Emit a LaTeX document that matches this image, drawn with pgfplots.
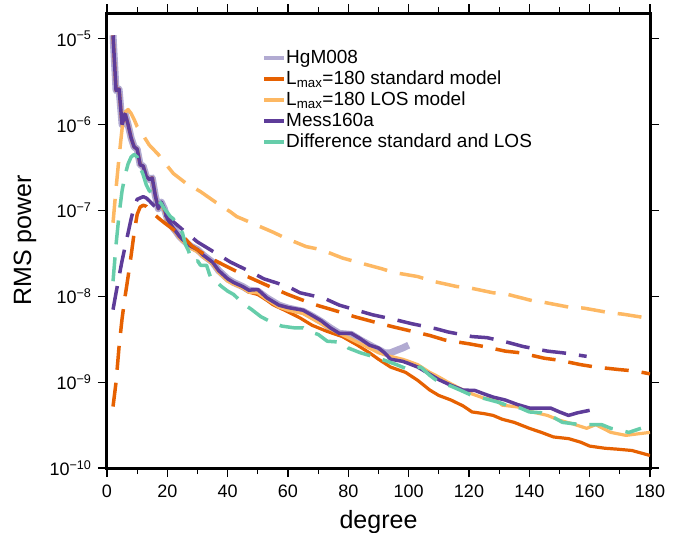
\documentclass[border=0pt]{standalone}
\usepackage{fontspec}
\setmainfont{Liberation Sans}
\usepackage{pgfplots}
\pgfplotsset{compat=1.18}
\definecolor{hgm}{HTML}{B2ABD2}
\definecolor{stdm}{HTML}{E66101}
\definecolor{losm}{HTML}{FDB863}
\definecolor{mess}{HTML}{5E3C99}
\definecolor{diffc}{HTML}{66CDAA}

\begin{document}
\begin{tikzpicture}
\begin{axis}[
  name=ax, scale only axis, width=543bp, height=455bp,
  ymode=log, xmin=0, xmax=180, ymin=1e-10, ymax=2e-5,
  xtick={0,20,...,180}, minor x tick num=1,
  ytick={1e-10,1e-9,1e-8,1e-7,1e-6,1e-5},
  yticklabels={10\textsuperscript{−10},10\textsuperscript{−9},10\textsuperscript{−8},
    10\textsuperscript{−7},10\textsuperscript{−6},10\textsuperscript{−5}},
  yminorticks=false,
  /pgf/number format/assume math mode=true,
  tick align=outside, major tick length=9bp, minor tick length=6bp,
  tick style={black, line width=1.3bp},
  axis line style={line width=3bp, line cap=rect},
  ticklabel style={font=\fontsize{18bp}{20bp}\selectfont},
  xticklabel style={yshift=-4bp},
  yticklabel style={xshift=-3bp},
  label style={font=\fontsize{25bp}{28bp}\selectfont},
  xlabel={degree}, ylabel={RMS power},
  xlabel style={at={(axis description cs:0.5,0)}, anchor=base, yshift=-60bp},
  ylabel style={at={(axis description cs:0,0.5)}, anchor=center, yshift=82bp},
  legend style={draw=none, fill=none, at={(0.28,0.925)}, anchor=north west,
    font=\fontsize{19bp}{21bp}\selectfont,
    nodes={inner sep=0pt, text height=14bp, text depth=4bp},
    row sep=3bp, /tikz/column 1/.style={column sep=0bp}},
  legend cell align=left,
  legend image code/.code={\draw[#1, line width=4bp, solid] (0bp,0bp) -- (20bp,0bp);},
  every axis plot/.append style={line join=round},
  clip=true,
]
% HgM008
\addplot[hgm, line width=7bp] coordinates {
 (2,1.1e-5)(3,2.5e-6)(4,2.6e-6)(5,1.0e-6)(6,1.35e-6)(7,1.0e-6)(8,7e-7)(9,5.5e-7)
 (10,5.2e-7)(11,3.4e-7)(12,3.3e-7)(13,2.5e-7)(14,2.3e-7)(15,2.4e-7)(16,1.5e-7)
 (17,1.05e-7)(18,1.25e-7)(19,1.05e-7)(20,8e-8)(21,7e-8)(22,6.2e-8)(23,5.6e-8)
 (24,5.0e-8)(25,4.6e-8)(26,4.3e-8)(27,4.0e-8)(28,3.8e-8)(30,3.5e-8)(32,3.0e-8)
 (35,2.5e-8)(37,2.0e-8)(40,1.6e-8)(42,1.45e-8)(45,1.3e-8)(47,1.18e-8)(50,1.15e-8)
 (53,9.6e-9)(57,7.9e-9)(60,7.3e-9)(65,6.7e-9)(68,5.9e-9)(71,5.1e-9)(74,4.3e-9)
 (77,3.7e-9)(81,3.6e-9)(84,3.1e-9)(88,2.6e-9)(90,2.4e-9)(92,2.2e-9)(94,2.2e-9)
 (96,2.35e-9)(98,2.5e-9)(100,2.7e-9)};
\addlegendentry{HgM008}
% Lmax=180 standard model
\addplot[stdm, line width=3.2bp] coordinates {
 (2,1.1e-5)(3,2.5e-6)(4,2.6e-6)(5,1.0e-6)(6,1.35e-6)(7,1.0e-6)(8,7e-7)(9,5.5e-7)
 (10,5.2e-7)(11,3.4e-7)(12,3.3e-7)(13,2.5e-7)(14,2.3e-7)(15,2.4e-7)(16,1.5e-7)
 (17,1.05e-7)(18,1.2e-7)(19,1.0e-7)(20,7.8e-8)(21,6.8e-8)(22,6.0e-8)(23,5.4e-8)
 (24,4.9e-8)(25,4.5e-8)(26,4.2e-8)(27,3.9e-8)(28,3.7e-8)(30,3.4e-8)(32,2.9e-8)
 (35,2.4e-8)(37,1.95e-8)(40,1.55e-8)(42,1.4e-8)(45,1.25e-8)(47,1.12e-8)(50,1.05e-8)
 (53,9.0e-9)(55,8.0e-9)(60,6.6e-9)(64,5.6e-9)(68,4.6e-9)(73,3.9e-9)(78,3.4e-9)
 (83,2.7e-9)(87,2.2e-9)(90,1.85e-9)(94,1.5e-9)(99,1.3e-9)(103,1.05e-9)(107,8.1e-10)
 (110,7e-10)(114,6.2e-10)(118,5.3e-10)(121,4.5e-10)(125,4.3e-10)(128,4.1e-10)
 (131,3.7e-10)(135,3.4e-10)(140,2.9e-10)(144,2.6e-10)(148,2.3e-10)(153,2.2e-10)
 (157,2.0e-10)(160,1.8e-10)(165,1.7e-10)(169,1.66e-10)(174,1.6e-10)(180,1.4e-10)};
\addlegendentry{L\textsubscript{max}=180 standard model}
% Lmax=180 LOS model
\addplot[losm, line width=3.2bp] coordinates {
 (2,1.1e-5)(3,2.5e-6)(4,2.6e-6)(5,1.0e-6)(6,1.35e-6)(7,1.0e-6)(8,7e-7)(9,5.5e-7)
 (10,5.2e-7)(11,3.4e-7)(12,3.3e-7)(13,2.5e-7)(14,2.3e-7)(15,2.4e-7)(16,1.5e-7)
 (17,1.05e-7)(18,1.2e-7)(19,1.0e-7)(20,7.7e-8)(21,6.8e-8)(22,6.0e-8)(23,5.4e-8)
 (24,4.8e-8)(25,4.4e-8)(26,4.1e-8)(27,3.8e-8)(28,3.6e-8)(30,3.3e-8)(32,2.85e-8)
 (35,2.4e-8)(37,1.9e-8)(40,1.5e-8)(42,1.38e-8)(45,1.25e-8)(47,1.12e-8)(50,1.1e-8)
 (53,9.2e-9)(57,7.5e-9)(60,6.9e-9)(65,6.3e-9)(70,5.0e-9)(75,4.0e-9)(80,3.3e-9)
 (85,2.7e-9)(90,2.2e-9)(94,2.0e-9)(98,1.85e-9)(100,1.75e-9)(103,1.6e-9)(107,1.3e-9)
 (110,1.15e-9)(113,1.0e-9)(118,8.1e-10)(121,7.3e-10)(125,6.5e-10)(129,6.2e-10)
 (131,5.4e-10)(137,5.1e-10)(141,4.5e-10)(146,4.1e-10)(150,3.6e-10)(154,3.3e-10)
 (159,2.9e-10)(162,3.2e-10)(167,2.6e-10)(172,2.4e-10)(176,2.5e-10)(180,2.6e-10)};
\addlegendentry{L\textsubscript{max}=180 LOS model}
% Mess160a
\addplot[mess, line width=3.5bp] coordinates {
 (2,1.1e-5)(3,2.5e-6)(4,2.6e-6)(5,1.0e-6)(6,1.35e-6)(7,1.0e-6)(8,7e-7)(9,5.5e-7)
 (10,5.2e-7)(11,3.4e-7)(12,3.3e-7)(13,2.5e-7)(14,2.3e-7)(15,2.4e-7)(16,1.5e-7)
 (17,1.05e-7)(18,1.25e-7)(19,1.05e-7)(20,8e-8)(21,7e-8)(22,6.2e-8)(23,5.6e-8)
 (24,5.0e-8)(25,4.6e-8)(26,4.3e-8)(27,4.0e-8)(28,3.8e-8)(30,3.5e-8)(32,3.0e-8)
 (35,2.5e-8)(37,2.0e-8)(40,1.6e-8)(42,1.45e-8)(45,1.3e-8)(47,1.18e-8)(50,1.2e-8)
 (53,9.6e-9)(57,7.9e-9)(60,7.4e-9)(65,6.9e-9)(68,6.0e-9)(71,5.2e-9)(74,4.3e-9)
 (77,3.7e-9)(81,3.7e-9)(84,3.2e-9)(87,2.7e-9)(90,2.5e-9)(92,2.2e-9)(94,1.85e-9)
 (98,1.75e-9)(100,1.65e-9)(103,1.5e-9)(106,1.3e-9)(110,1.07e-9)(114,9.2e-10)
 (118,8.1e-10)(122,8.0e-10)(125,7.3e-10)(128,6.7e-10)(132,6.2e-10)(136,5.5e-10)
 (140,5.0e-10)(144,5.0e-10)(147,5.0e-10)(150,4.5e-10)(153,4.1e-10)(156,4.4e-10)
 (160,4.7e-10)};
\addlegendentry{Mess160a}
% dashed: standard model difference
\addplot[stdm, line width=3.5bp, dash pattern=on 24bp off 13bp, forget plot] coordinates {
 (2,5.2e-10)(3,1.0e-9)(4,2.6e-9)(5,5.5e-9)(6,1.0e-8)(7,1.7e-8)(8,3e-8)(9,5.5e-8)
 (10,9e-8)(11,1.1e-7)(12,1.15e-7)(13,1.12e-7)(14,1.02e-7)(15,9.5e-8)(17,8.2e-8)
 (19,7.2e-8)(22,6e-8)(25,5.1e-8)(28,3.9e-8)(31,3.3e-8)(35,2.7e-8)(40,2.2e-8)
 (45,1.8e-8)(50,1.5e-8)(55,1.25e-8)(60,1.05e-8)(65,9e-9)(70,7.8e-9)(77,6.6e-9)
 (82,5.8e-9)(87,5.2e-9)(95,4.4e-9)(100,4.0e-9)(107,3.5e-9)(112,3.1e-9)(120,2.8e-9)
 (125,2.6e-9)(132,2.3e-9)(137,2.2e-9)(145,1.9e-9)(150,1.8e-9)(157,1.6e-9)
 (162,1.5e-9)(170,1.4e-9)(175,1.35e-9)(180,1.25e-9)};
% dashed: LOS model difference
\addplot[losm, line width=3.5bp, dash pattern=on 24bp off 13bp, forget plot] coordinates {
 (2,7.2e-8)(3,1.8e-7)(4,4.2e-7)(5,9e-7)(6,1.4e-6)(7,1.5e-6)(8,1.35e-6)(9,1.15e-6)
 (10,9.5e-7)(12,7.5e-7)(14,5.8e-7)(17,4.5e-7)(20,3.3e-7)(22,2.7e-7)(26,2.1e-7)
 (31,1.66e-7)(36,1.25e-7)(41,9.6e-8)(43,8.5e-8)(47,7.4e-8)(55,5.6e-8)(59,4.8e-8)
 (66,3.8e-8)(71,3.5e-8)(78,2.8e-8)(83,2.5e-8)(91,2.1e-8)(95,1.9e-8)(103,1.7e-8)
 (108,1.5e-8)(116,1.3e-8)(120,1.26e-8)(128,1.1e-8)(133,1.05e-8)(141,8.9e-9)
 (145,8.5e-9)(153,7.5e-9)(158,7.3e-9)(166,6.5e-9)(171,6.2e-9)(179,5.6e-9)(180,5.5e-9)};
% dashed: Mess160a difference
\addplot[mess, line width=3.5bp, dash pattern=on 24bp off 13bp, forget plot] coordinates {
 (2,7e-9)(3,1.1e-8)(4,1.7e-8)(5,2.6e-8)(6,3.8e-8)(7,5.5e-8)(8,8e-8)(9,1.1e-7)
 (10,1.35e-7)(12,1.45e-7)(13,1.4e-7)(14,1.3e-7)(16,1.1e-7)(20,8.5e-8)(25,6e-8)
 (30,4.3e-8)(36,3.2e-8)(41,2.5e-8)(48,1.9e-8)(52,1.6e-8)(60,1.3e-8)(64,1.1e-8)
 (72,9.5e-9)(77,7.9e-9)(84,6.7e-9)(88,6.1e-9)(96,5.3e-9)(101,4.8e-9)(109,4.2e-9)
 (113,3.85e-9)(121,3.4e-9)(126,3.3e-9)(133,2.9e-9)(138,2.6e-9)(146,2.3e-9)
 (151,2.2e-9)(159,2.0e-9)};
% Difference standard and LOS
\addplot[diffc, line width=3.5bp, dash pattern=on 24bp off 13bp] coordinates {
 (2,1.5e-8)(3,4e-8)(4,9e-8)(5,1.7e-7)(6,2.6e-7)(7,3.5e-7)(8,4.2e-7)(9,4.5e-7)
 (10,4.2e-7)(11,3.2e-7)(12,2.6e-7)(13,2.0e-7)(14,1.7e-7)(15,1.6e-7)(16,1.5e-7)
 (17,1.3e-7)(18,1.2e-7)(19,1.05e-7)(20,9.5e-8)(21,8.5e-8)(22,8e-8)(23,6.6e-8)
 (24,6.2e-8)(25,5.5e-8)(26,4.0e-8)(27,3.4e-8)(28,2.7e-8)(29,2.5e-8)(30,2.6e-8)
 (31,2.3e-8)(33,2.3e-8)(34,1.8e-8)(35,1.5e-8)(36,1.5e-8)(38,1.3e-8)(40,1.15e-8)
 (42,1.05e-8)(45,8.3e-9)(48,7.0e-9)(51,5.8e-9)(55,4.9e-9)(58,4.5e-9)(62,4.3e-9)
 (65,4.3e-9)(67,3.9e-9)(70,3.6e-9)(73,3.0e-9)(76,2.95e-9)(78,2.9e-9)(80,2.5e-9)
 (84,2.2e-9)(88,2.0e-9)(92,1.8e-9)(96,1.6e-9)(100,1.4e-9)(104,1.5e-9)(107,1.2e-9)
 (110,1.0e-9)(114,9e-10)(117,8.1e-10)(121,7e-10)(124,6.6e-10)(127,6.2e-10)
 (130,5.8e-10)(133,5.3e-10)(137,5.0e-10)(140,4.5e-10)(144,4.4e-10)(148,3.9e-10)
 (151,3.4e-10)(154,3.3e-10)(157,3.2e-10)(161,3.2e-10)(164,3.2e-10)(167,2.9e-10)
 (169,2.8e-10)(173,2.6e-10)(177,2.9e-10)};
\addlegendentry{Difference standard and LOS}
\end{axis}
\pgfresetboundingbox
\path ([shift={(-107bp,-65bp)}]ax.south west) rectangle ([shift={(35bp,13bp)}]ax.north east);
\end{tikzpicture}
\end{document}
